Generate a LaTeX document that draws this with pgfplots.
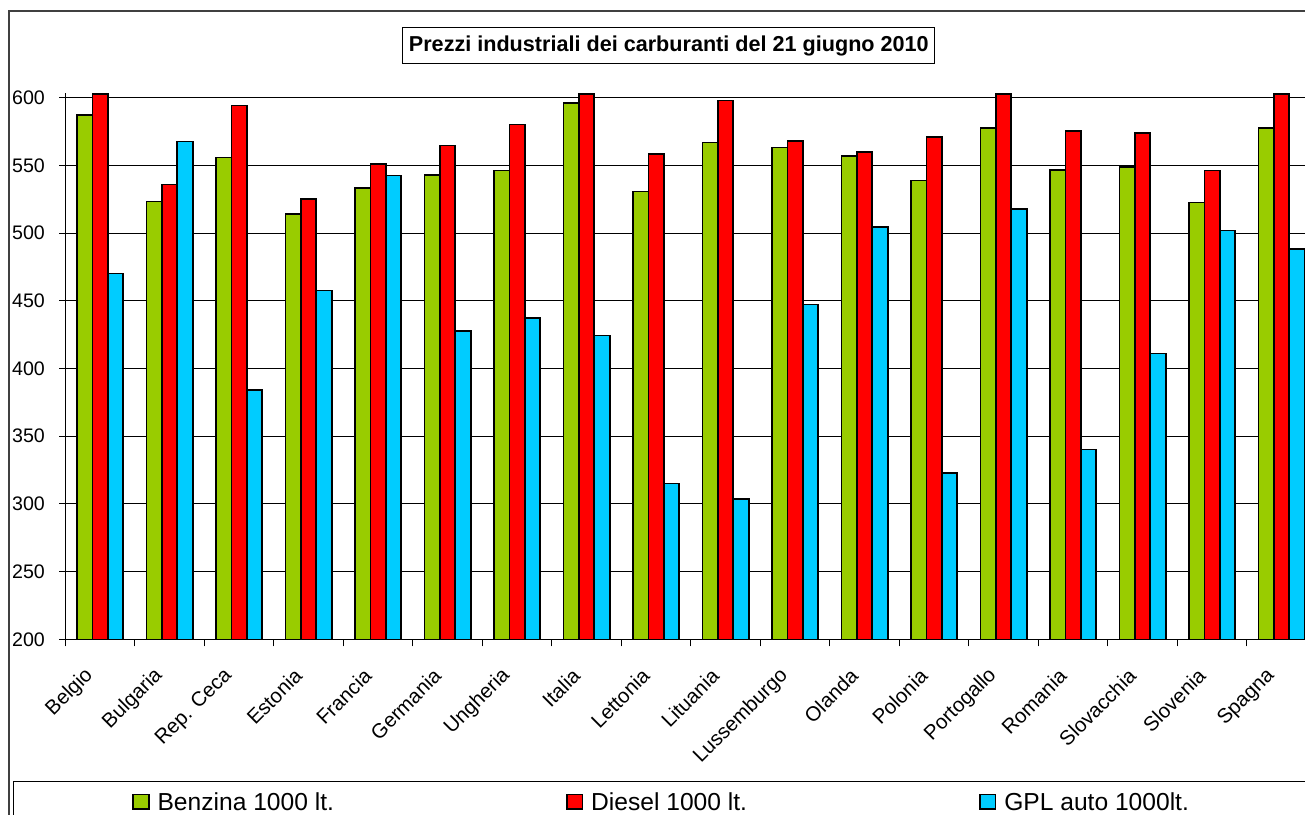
\documentclass[border=0pt]{standalone}
\usepackage{pgfplots}
\pgfplotsset{compat=1.18}
\usepackage{fontspec}
\setmainfont{Liberation Sans}
\definecolor{cgreen}{HTML}{99CC00}
\definecolor{cred}{HTML}{FF0000}
\definecolor{cblue}{HTML}{00CCFF}
\begin{document}
\begin{tikzpicture}
\draw[black!75, line width=0.8pt] (4.5pt,-5pt) -- (4.5pt,401.5pt) -- (665pt,401.5pt);
\draw[black, line width=0.5pt] (6.5pt,-5pt) -- (6.5pt,16.5pt) -- (665pt,16.5pt);
\begin{axis}[
  at={(32.65pt,87.35pt)}, anchor=south west,
  width=625.5pt, height=272.97pt, scale only axis,
  xmin=-0.5, xmax=17.5, ymin=200, ymax=603.2,
  /pgf/number format/assume math mode=true,
  axis x line*=bottom, axis y line*=left,
  axis line style={black, line width=0.5pt},
  ytick={200,250,...,600},
  ymajorgrids, grid style={black, line width=0.5pt},
  tick align=outside, major tick length=3pt,
  tick style={black, line width=0.5pt},
  xtick={0,...,17},
  xticklabels={Belgio,Bulgaria,Rep. Ceca,Estonia,Francia,Germania,Ungheria,Italia,Lettonia,Lituania,Lussemburgo,Olanda,Polonia,Portogallo,Romania,Slovacchia,Slovenia,Spagna},
  major x tick style={draw=none},
  minor xtick={-0.5,0.5,...,17.5},
  minor x tick style={black, line width=0.5pt},
  minor tick length=3.5pt,
  xticklabel style={font=\fontsize{10.2pt}{12pt}\selectfont, anchor=east, inner sep=0pt, xshift=-5pt, yshift=-13.5pt, rotate=45},
  yticklabel style={font=\fontsize{9.8pt}{12pt}\selectfont, inner sep=0pt, xshift=-7pt},
  legend columns=3,
  legend style={at={(0.0533,-0.2995)}, anchor=west, draw=none, fill=none, inner sep=0pt,
    font=\fontsize{12.3pt}{14pt}\selectfont, nodes={inner sep=0pt},
    /tikz/every odd column/.append style={column sep=4pt},
    /tikz/every even column/.append style={column sep=116pt}},
  legend image code/.code={\draw[#1] (0pt,-3.2pt) rectangle (7.8pt,4.2pt);},
]
\addplot[ybar, bar width=7.72pt, bar shift=-7.72pt, fill=cgreen, draw=black, line width=0.8pt] coordinates {
(0,587.2) (1,523.2) (2,555.7) (3,514.1) (4,533.3) (5,543.1) (6,546.1) (7,595.9) (8,530.6)
(9,566.8) (10,563.1) (11,556.9) (12,538.7) (13,577.4) (14,546.4) (15,548.8) (16,522.7) (17,577.6)};
\addlegendentry{Benzina 1000 lt.}
\addplot[ybar, bar width=7.72pt, bar shift=0pt, fill=cred, draw=black, line width=0.8pt] coordinates {
(0,602.5) (1,536.0) (2,594.1) (3,525.0) (4,551.0) (5,564.8) (6,580.1) (7,602.5) (8,558.6)
(9,597.8) (10,568.2) (11,560.1) (12,571.0) (13,602.5) (14,575.2) (15,573.7) (16,546.1) (17,602.5)};
\addlegendentry{Diesel 1000 lt.}
\addplot[ybar, bar width=7.72pt, bar shift=7.72pt, fill=cblue, draw=black, line width=0.8pt] coordinates {
(0,470.3) (1,567.5) (2,384.1) (3,457.5) (4,542.4) (5,427.9) (6,437.3) (7,424.5) (8,315.2)
(9,303.8) (10,447.4) (11,504.5) (12,322.8) (13,517.8) (14,340.3) (15,411.0) (16,501.8) (17,488.3)};
\addlegendentry{GPL auto 1000lt.}
\end{axis}
\node[draw=black, line width=0.5pt, fill=white, minimum width=266.15pt, minimum height=18.3pt, inner sep=0pt,
  font=\bfseries\fontsize{10.8pt}{13pt}\selectfont] at (334.4pt,384.15pt) {Prezzi industriali dei carburanti del 21 giugno 2010};
\pgfresetboundingbox
\useasboundingbox (0,0) rectangle (652.5pt,407pt);
\end{tikzpicture}
\end{document}
